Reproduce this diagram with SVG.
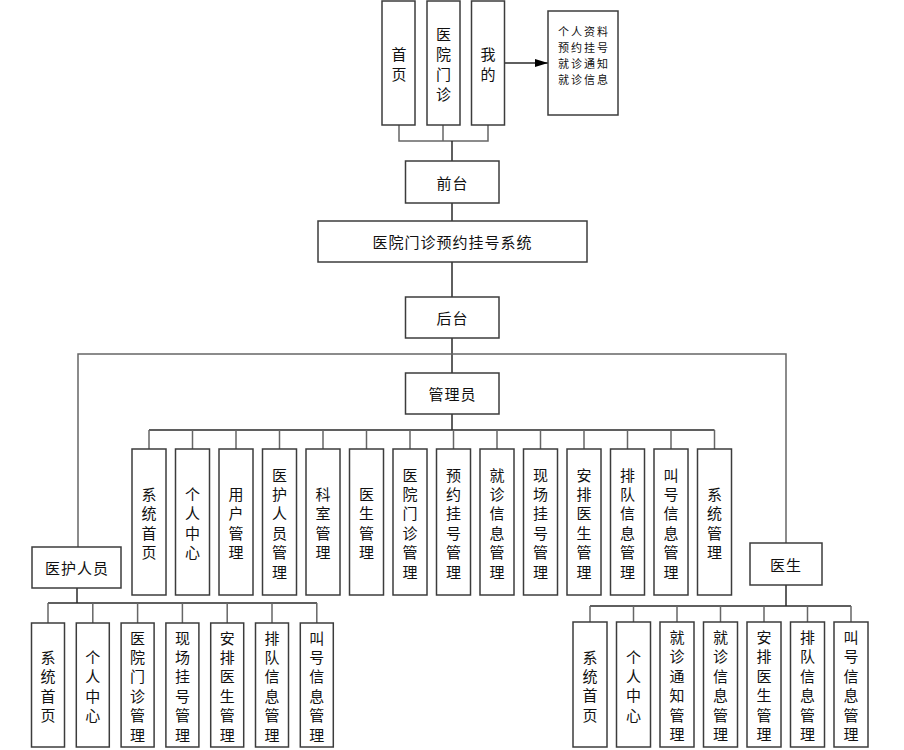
<svg xmlns="http://www.w3.org/2000/svg" width="904" height="750" viewBox="0 0 904 750">
<style>
rect{fill:#fff;stroke:#3c3c3c;stroke-width:1.5}
text{font-family:"Noto Sans CJK SC","Liberation Sans",sans-serif;font-size:15px;fill:#111;text-anchor:middle;dominant-baseline:central}
.h{letter-spacing:1px}
.s{font-size:11px;letter-spacing:2px}
.c line,.c polyline{stroke:#2a2a2a;stroke-width:1.5;fill:none}
.c .g{stroke:#666}
</style>
<defs>
<marker id="arr" markerWidth="13" markerHeight="8" refX="13" refY="4" orient="auto" markerUnits="userSpaceOnUse">
<path d="M0,0 L13,4 L0,8 Z" fill="#000"/>
</marker>
</defs>
<g class="c" id="connectors">
<polyline class="g" points="399,125 399,141 488,141 488,125"/>
<line class="g" x1="443" y1="125" x2="443" y2="141"/>
<line x1="452" y1="141" x2="452" y2="161"/>
<line x1="504" y1="63" x2="548" y2="63" marker-end="url(#arr)"/>
<line x1="452" y1="203" x2="452" y2="221"/>
<line x1="452" y1="262" x2="452" y2="297"/>
<line x1="452" y1="338" x2="452" y2="373"/>
<polyline class="g" points="78,547 78,354 786,354 786,543"/>
<line x1="452" y1="414" x2="452" y2="430"/>
<line x1="149" y1="430" x2="714.5" y2="430"/>
<line class="g" x1="149" y1="430" x2="149" y2="449"/>
<line class="g" x1="192.5" y1="430" x2="192.5" y2="449"/>
<line class="g" x1="236" y1="430" x2="236" y2="449"/>
<line class="g" x1="279.5" y1="430" x2="279.5" y2="449"/>
<line class="g" x1="323" y1="430" x2="323" y2="449"/>
<line class="g" x1="366.5" y1="430" x2="366.5" y2="449"/>
<line class="g" x1="410" y1="430" x2="410" y2="449"/>
<line class="g" x1="453.5" y1="430" x2="453.5" y2="449"/>
<line class="g" x1="497" y1="430" x2="497" y2="449"/>
<line class="g" x1="540.5" y1="430" x2="540.5" y2="449"/>
<line class="g" x1="584" y1="430" x2="584" y2="449"/>
<line class="g" x1="627.5" y1="430" x2="627.5" y2="449"/>
<line class="g" x1="671" y1="430" x2="671" y2="449"/>
<line class="g" x1="714.5" y1="430" x2="714.5" y2="449"/>
<line x1="77" y1="588" x2="77" y2="603"/>
<line x1="48" y1="603" x2="317" y2="603"/>
<line class="g" x1="48" y1="603" x2="48" y2="623"/>
<line class="g" x1="92.8" y1="603" x2="92.8" y2="623"/>
<line class="g" x1="137.6" y1="603" x2="137.6" y2="623"/>
<line class="g" x1="182.4" y1="603" x2="182.4" y2="623"/>
<line class="g" x1="227.2" y1="603" x2="227.2" y2="623"/>
<line class="g" x1="272" y1="603" x2="272" y2="623"/>
<line class="g" x1="316.8" y1="603" x2="316.8" y2="623"/>
<line x1="786" y1="585" x2="786" y2="606"/>
<line x1="590" y1="606" x2="851" y2="606"/>
<line class="g" x1="590" y1="606" x2="590" y2="622"/>
<line class="g" x1="633.5" y1="606" x2="633.5" y2="622"/>
<line class="g" x1="677" y1="606" x2="677" y2="622"/>
<line class="g" x1="720.5" y1="606" x2="720.5" y2="622"/>
<line class="g" x1="764" y1="606" x2="764" y2="622"/>
<line class="g" x1="807.5" y1="606" x2="807.5" y2="622"/>
<line class="g" x1="851" y1="606" x2="851" y2="622"/>
</g>

<g id="n-shouye"><rect x="382" y="1" width="33" height="124"/><text><tspan x="399" y="53">首</tspan><tspan x="399" dy="20">页</tspan></text></g>
<g id="n-menzhen"><rect x="427" y="1" width="33" height="124"/><text><tspan x="443.5" y="33">医</tspan><tspan x="443.5" dy="20">院</tspan><tspan x="443.5" dy="20">门</tspan><tspan x="443.5" dy="20">诊</tspan></text></g>
<g id="n-wode"><rect x="471.5" y="1" width="33" height="124"/><text><tspan x="488" y="53">我</tspan><tspan x="488" dy="20">的</tspan></text></g>
<g id="n-info"><rect x="548" y="11" width="70" height="104"/><text class="s"><tspan x="584" y="31">个人资料</tspan><tspan x="584" dy="16">预约挂号</tspan><tspan x="584" dy="16">就诊通知</tspan><tspan x="584" dy="16">就诊信息</tspan></text></g>
<g id="n-qiantai"><rect x="405.5" y="161" width="93.5" height="42"/><text class="h" x="452.5" y="182">前台</text></g>
<g id="n-system"><rect x="318" y="221" width="269" height="41"/><text class="h" x="452.5" y="241.5">医院门诊预约挂号系统</text></g>
<g id="n-houtai"><rect x="405.5" y="297" width="93.5" height="41"/><text class="h" x="452.5" y="317.5">后台</text></g>
<g id="n-admin"><rect x="405.5" y="373" width="93.5" height="41"/><text class="h" x="452.5" y="393.5">管理员</text></g>
<g id="n-staff"><rect x="32" y="547" width="89" height="41"/><text class="h" x="77" y="567.5">医护人员</text></g>
<g id="n-doctor"><rect x="750" y="543" width="72" height="42"/><text class="h" x="786" y="564">医生</text></g>

<g id="a1"><rect x="132" y="449" width="34" height="146"/><text><tspan x="149" y="492.9">系</tspan><tspan x="149" dy="19.4">统</tspan><tspan x="149" dy="19.4">首</tspan><tspan x="149" dy="19.4">页</tspan></text></g>
<g id="a2"><rect x="175.5" y="449" width="34" height="146"/><text><tspan x="192.5" y="492.9">个</tspan><tspan x="192.5" dy="19.4">人</tspan><tspan x="192.5" dy="19.4">中</tspan><tspan x="192.5" dy="19.4">心</tspan></text></g>
<g id="a3"><rect x="219" y="449" width="34" height="146"/><text><tspan x="236" y="492.9">用</tspan><tspan x="236" dy="19.4">户</tspan><tspan x="236" dy="19.4">管</tspan><tspan x="236" dy="19.4">理</tspan></text></g>
<g id="a4"><rect x="262.5" y="449" width="34" height="146"/><text><tspan x="279.5" y="473.5">医</tspan><tspan x="279.5" dy="19.4">护</tspan><tspan x="279.5" dy="19.4">人</tspan><tspan x="279.5" dy="19.4">员</tspan><tspan x="279.5" dy="19.4">管</tspan><tspan x="279.5" dy="19.4">理</tspan></text></g>
<g id="a5"><rect x="306" y="449" width="34" height="146"/><text><tspan x="323" y="492.9">科</tspan><tspan x="323" dy="19.4">室</tspan><tspan x="323" dy="19.4">管</tspan><tspan x="323" dy="19.4">理</tspan></text></g>
<g id="a6"><rect x="349.5" y="449" width="34" height="146"/><text><tspan x="366.5" y="492.9">医</tspan><tspan x="366.5" dy="19.4">生</tspan><tspan x="366.5" dy="19.4">管</tspan><tspan x="366.5" dy="19.4">理</tspan></text></g>
<g id="a7"><rect x="393" y="449" width="34" height="146"/><text><tspan x="410" y="473.5">医</tspan><tspan x="410" dy="19.4">院</tspan><tspan x="410" dy="19.4">门</tspan><tspan x="410" dy="19.4">诊</tspan><tspan x="410" dy="19.4">管</tspan><tspan x="410" dy="19.4">理</tspan></text></g>
<g id="a8"><rect x="436.5" y="449" width="34" height="146"/><text><tspan x="453.5" y="473.5">预</tspan><tspan x="453.5" dy="19.4">约</tspan><tspan x="453.5" dy="19.4">挂</tspan><tspan x="453.5" dy="19.4">号</tspan><tspan x="453.5" dy="19.4">管</tspan><tspan x="453.5" dy="19.4">理</tspan></text></g>
<g id="a9"><rect x="480" y="449" width="34" height="146"/><text><tspan x="497" y="473.5">就</tspan><tspan x="497" dy="19.4">诊</tspan><tspan x="497" dy="19.4">信</tspan><tspan x="497" dy="19.4">息</tspan><tspan x="497" dy="19.4">管</tspan><tspan x="497" dy="19.4">理</tspan></text></g>
<g id="a10"><rect x="523.5" y="449" width="34" height="146"/><text><tspan x="540.5" y="473.5">现</tspan><tspan x="540.5" dy="19.4">场</tspan><tspan x="540.5" dy="19.4">挂</tspan><tspan x="540.5" dy="19.4">号</tspan><tspan x="540.5" dy="19.4">管</tspan><tspan x="540.5" dy="19.4">理</tspan></text></g>
<g id="a11"><rect x="567" y="449" width="34" height="146"/><text><tspan x="584" y="473.5">安</tspan><tspan x="584" dy="19.4">排</tspan><tspan x="584" dy="19.4">医</tspan><tspan x="584" dy="19.4">生</tspan><tspan x="584" dy="19.4">管</tspan><tspan x="584" dy="19.4">理</tspan></text></g>
<g id="a12"><rect x="610.5" y="449" width="34" height="146"/><text><tspan x="627.5" y="473.5">排</tspan><tspan x="627.5" dy="19.4">队</tspan><tspan x="627.5" dy="19.4">信</tspan><tspan x="627.5" dy="19.4">息</tspan><tspan x="627.5" dy="19.4">管</tspan><tspan x="627.5" dy="19.4">理</tspan></text></g>
<g id="a13"><rect x="654" y="449" width="34" height="146"/><text><tspan x="671" y="473.5">叫</tspan><tspan x="671" dy="19.4">号</tspan><tspan x="671" dy="19.4">信</tspan><tspan x="671" dy="19.4">息</tspan><tspan x="671" dy="19.4">管</tspan><tspan x="671" dy="19.4">理</tspan></text></g>
<g id="a14"><rect x="697.5" y="449" width="34" height="146"/><text><tspan x="714.5" y="492.9">系</tspan><tspan x="714.5" dy="19.4">统</tspan><tspan x="714.5" dy="19.4">管</tspan><tspan x="714.5" dy="19.4">理</tspan></text></g>

<g id="l1"><rect x="31.5" y="623" width="33" height="124"/><text><tspan x="48" y="656">系</tspan><tspan x="48" dy="19.4">统</tspan><tspan x="48" dy="19.4">首</tspan><tspan x="48" dy="19.4">页</tspan></text></g>
<g id="l2"><rect x="76.3" y="623" width="33" height="124"/><text><tspan x="92.8" y="656">个</tspan><tspan x="92.8" dy="19.4">人</tspan><tspan x="92.8" dy="19.4">中</tspan><tspan x="92.8" dy="19.4">心</tspan></text></g>
<g id="l3"><rect x="121.1" y="623" width="33" height="124"/><text><tspan x="137.6" y="636.6">医</tspan><tspan x="137.6" dy="19.4">院</tspan><tspan x="137.6" dy="19.4">门</tspan><tspan x="137.6" dy="19.4">诊</tspan><tspan x="137.6" dy="19.4">管</tspan><tspan x="137.6" dy="19.4">理</tspan></text></g>
<g id="l4"><rect x="165.9" y="623" width="33" height="124"/><text><tspan x="182.4" y="636.6">现</tspan><tspan x="182.4" dy="19.4">场</tspan><tspan x="182.4" dy="19.4">挂</tspan><tspan x="182.4" dy="19.4">号</tspan><tspan x="182.4" dy="19.4">管</tspan><tspan x="182.4" dy="19.4">理</tspan></text></g>
<g id="l5"><rect x="210.7" y="623" width="33" height="124"/><text><tspan x="227.2" y="636.6">安</tspan><tspan x="227.2" dy="19.4">排</tspan><tspan x="227.2" dy="19.4">医</tspan><tspan x="227.2" dy="19.4">生</tspan><tspan x="227.2" dy="19.4">管</tspan><tspan x="227.2" dy="19.4">理</tspan></text></g>
<g id="l6"><rect x="255.5" y="623" width="33" height="124"/><text><tspan x="272" y="636.6">排</tspan><tspan x="272" dy="19.4">队</tspan><tspan x="272" dy="19.4">信</tspan><tspan x="272" dy="19.4">息</tspan><tspan x="272" dy="19.4">管</tspan><tspan x="272" dy="19.4">理</tspan></text></g>
<g id="l7"><rect x="300.3" y="623" width="33" height="124"/><text><tspan x="316.8" y="636.6">叫</tspan><tspan x="316.8" dy="19.4">号</tspan><tspan x="316.8" dy="19.4">信</tspan><tspan x="316.8" dy="19.4">息</tspan><tspan x="316.8" dy="19.4">管</tspan><tspan x="316.8" dy="19.4">理</tspan></text></g>

<g id="r1"><rect x="573" y="622" width="34" height="125"/><text><tspan x="590" y="655.5">系</tspan><tspan x="590" dy="19.4">统</tspan><tspan x="590" dy="19.4">首</tspan><tspan x="590" dy="19.4">页</tspan></text></g>
<g id="r2"><rect x="616.5" y="622" width="34" height="125"/><text><tspan x="633.5" y="655.5">个</tspan><tspan x="633.5" dy="19.4">人</tspan><tspan x="633.5" dy="19.4">中</tspan><tspan x="633.5" dy="19.4">心</tspan></text></g>
<g id="r3"><rect x="660" y="622" width="34" height="125"/><text><tspan x="677" y="636">就</tspan><tspan x="677" dy="19.4">诊</tspan><tspan x="677" dy="19.4">通</tspan><tspan x="677" dy="19.4">知</tspan><tspan x="677" dy="19.4">管</tspan><tspan x="677" dy="19.4">理</tspan></text></g>
<g id="r4"><rect x="703.5" y="622" width="34" height="125"/><text><tspan x="720.5" y="636">就</tspan><tspan x="720.5" dy="19.4">诊</tspan><tspan x="720.5" dy="19.4">信</tspan><tspan x="720.5" dy="19.4">息</tspan><tspan x="720.5" dy="19.4">管</tspan><tspan x="720.5" dy="19.4">理</tspan></text></g>
<g id="r5"><rect x="747" y="622" width="34" height="125"/><text><tspan x="764" y="636">安</tspan><tspan x="764" dy="19.4">排</tspan><tspan x="764" dy="19.4">医</tspan><tspan x="764" dy="19.4">生</tspan><tspan x="764" dy="19.4">管</tspan><tspan x="764" dy="19.4">理</tspan></text></g>
<g id="r6"><rect x="790.5" y="622" width="34" height="125"/><text><tspan x="807.5" y="636">排</tspan><tspan x="807.5" dy="19.4">队</tspan><tspan x="807.5" dy="19.4">信</tspan><tspan x="807.5" dy="19.4">息</tspan><tspan x="807.5" dy="19.4">管</tspan><tspan x="807.5" dy="19.4">理</tspan></text></g>
<g id="r7"><rect x="834" y="622" width="34" height="125"/><text><tspan x="851" y="636">叫</tspan><tspan x="851" dy="19.4">号</tspan><tspan x="851" dy="19.4">信</tspan><tspan x="851" dy="19.4">息</tspan><tspan x="851" dy="19.4">管</tspan><tspan x="851" dy="19.4">理</tspan></text></g>
</svg>
